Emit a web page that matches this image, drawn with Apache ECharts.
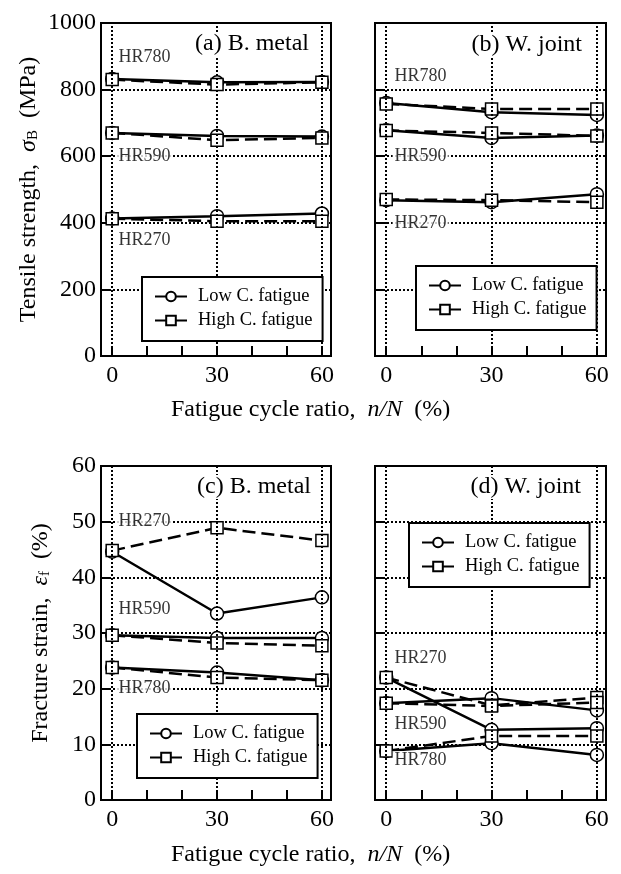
<!DOCTYPE html>
<html>
<head>
<meta charset="utf-8">
<script src="https://cdn.jsdelivr.net/npm/echarts@6/dist/echarts.min.js"></script>
<style>
  html, body { margin: 0; padding: 0; background: #fff; }
  #chart { width: 621px; height: 874px; }
</style>
</head>
<body>
<div id="chart"></div>
<script>
// fatigue cycle ratio n/N (%)
const xCycle = [0, 30, 60];
const xTicks = [0, 10, 20, 30, 40, 50, 60];
const steels = ["HR270", "HR590", "HR780"];

// tensile strength (MPa), rows in steels order
const tsMetalLow = [[413, 420, 428], [670, 661, 659], [832, 822, 823]];
const tsMetalHigh = [[412, 405, 405], [670, 648, 655], [830, 815, 822]];
const tsJointLow = [[468, 462, 486], [678, 655, 662], [760, 732, 724]];
const tsJointHigh = [[470, 468, 462], [677, 670, 661], [757, 742, 742]];

// fracture strain (%)
const fsMetalLow = [[44.6, 33.5, 36.4], [29.6, 29.1, 29.1], [23.8, 22.9, 21.5]];
const fsMetalHigh = [[44.8, 48.9, 46.6], [29.6, 28.2, 27.7], [23.8, 22.0, 21.5]];
const fsJointLow = [[22.0, 12.6, 12.9], [17.4, 18.3, 16.1], [8.8, 10.2, 8.1]];
const fsJointHigh = [[22.0, 17.0, 18.4], [17.4, 16.9, 17.5], [8.8, 11.5, 11.5]];

// where the grade names sit (data coords), steels order
const tsMetalTags = [[1.2, 348], [1.2, 600], [1.2, 898]];
const tsJointTags = [[1.8, 400], [1.8, 600], [1.8, 839]];
const fsMetalTags = [[1.2, 50], [1.2, 34.3], [1.2, 20]];
const fsJointTags = [[1.8, 25.5], [1.8, 13.6], [1.8, 7.2]];

const LOW = "Low C. fatigue";
const HIGH = "High C. fatigue";
const FONT = "'Liberation Serif', 'DejaVu Serif', serif";

const panels = [
  { grid: { left: 101, top: 23, width: 230, height: 333 }, max: 1000, step: 200, low: tsMetalLow, high: tsMetalHigh, tags: tsMetalTags,
    title: "(a) B. metal", titlePos: { right: 309, top: 32 }, legendPos: { left: 142, top: 277 }, yLabels: true,
    yName: "Tensile strength,  {g|σ}{s|B}  (MPa)", nameGap: 60 },
  { grid: { left: 375, top: 23, width: 231, height: 333 }, max: 1000, step: 200, low: tsJointLow, high: tsJointHigh, tags: tsJointTags,
    title: "(b) W. joint", titlePos: { right: 36, top: 33 }, legendPos: { left: 416, top: 266 }, yLabels: false },
  { grid: { left: 101, top: 466, width: 230, height: 334 }, max: 60, step: 10, low: fsMetalLow, high: fsMetalHigh, tags: fsMetalTags,
    title: "(c) B. metal", titlePos: { right: 307, top: 475 }, legendPos: { left: 137, top: 714 }, yLabels: true,
    yName: "Fracture strain,  {g|ε}{s|f}  (%)", nameGap: 48 },
  { grid: { left: 375, top: 466, width: 231, height: 334 }, max: 60, step: 10, low: fsJointLow, high: fsJointHigh, tags: fsJointTags,
    title: "(d) W. joint", titlePos: { right: 37, top: 475 }, legendPos: { left: 409, top: 523 }, yLabels: false },
];

const black = "#000";
const dotted = { color: black, width: 2, type: [2, 2] };

const grids = [], xAxes = [], yAxes = [], series = [], legends = [], titles = [];

panels.forEach((p, k) => {
  grids.push({ ...p.grid, show: true, borderColor: black, borderWidth: 2, backgroundColor: "transparent" });

  xAxes.push({
    gridIndex: k, type: "value", min: -3.2, max: 62.6,
    axisLine: { show: true, onZero: false, lineStyle: { color: black, width: 2 } },
    axisTick: { show: true, inside: true, length: 10, customValues: xTicks, lineStyle: { color: black, width: 2 } },
    axisLabel: { show: true, customValues: xCycle, margin: 8, fontFamily: FONT, fontSize: 24, color: black },
    splitLine: { show: false },
  });

  yAxes.push({
    gridIndex: k, type: "value", min: 0, max: p.max, interval: p.step,
    axisLine: { show: true, onZero: false, lineStyle: { color: black, width: 2 } },
    axisTick: { show: true, inside: true, length: 10, lineStyle: { color: black, width: 2 } },
    axisLabel: { show: p.yLabels, margin: 5, formatter: (v) => String(v), fontFamily: FONT, fontSize: 24, color: black },
    splitLine: { show: true, lineStyle: dotted },
    name: p.yName || "", nameLocation: "middle", nameGap: p.nameGap || 0,
    nameTextStyle: {
      fontFamily: FONT, fontSize: 24, color: black,
      rich: {
        g: { fontFamily: FONT, fontSize: 24, fontStyle: "italic", color: black },
        s: { fontFamily: FONT, fontSize: 15, color: black, verticalAlign: "bottom" },
      },
    },
  });

  // vertical dotted lines at the measured cycle ratios
  series.push({
    type: "line", xAxisIndex: k, yAxisIndex: k, data: [], z: 1, silent: true,
    markLine: {
      silent: true, symbol: ["none", "none"], label: { show: false }, animation: false,
      lineStyle: dotted, data: xCycle.map((v) => ({ xAxis: v })),
    },
  });

  steels.forEach((s, i) => {
    series.push({
      name: LOW, type: "line", xAxisIndex: k, yAxisIndex: k, z: 3,
      data: xCycle.map((x, j) => [x, p.low[i][j]]),
      symbol: "circle", symbolSize: 13,
      itemStyle: { color: "#fff", borderColor: black, borderWidth: 1.5 },
      lineStyle: { color: black, width: 2.5, type: "solid" },
    });
    series.push({
      name: HIGH, type: "line", xAxisIndex: k, yAxisIndex: k, z: 4,
      data: xCycle.map((x, j) => [x, p.high[i][j]]),
      symbol: "rect", symbolSize: 12,
      itemStyle: { color: "#fff", borderColor: black, borderWidth: 1.5 },
      lineStyle: { color: black, width: 2.5, type: [13, 6] },
    });
  });

  // grade names
  series.push({
    type: "scatter", xAxisIndex: k, yAxisIndex: k, z: 5, silent: true, symbolSize: 0,
    data: p.tags.map((t, i) => ({ value: t, name: steels[i] })),
    label: {
      show: true, position: "right", distance: 0, formatter: "{b}",
      fontFamily: FONT, fontSize: 18, color: black, backgroundColor: "#fff", padding: [0, 2],
    },
  });

  legends.push({
    ...p.legendPos, orient: "vertical", z: 10, selectedMode: false,
    data: [LOW, HIGH], itemWidth: 32, itemHeight: 12, itemGap: 5,
    padding: [10, 10, 11, 12], backgroundColor: "#fff", borderColor: black, borderWidth: 2, borderRadius: 0,
    textStyle: { fontFamily: FONT, fontSize: 18.5, color: black, padding: [0, 0, 0, 6] },
  });

  titles.push({
    text: p.title, ...p.titlePos, padding: [0, 3], backgroundColor: "#fff", z: 8,
    textStyle: { fontFamily: FONT, fontSize: 24, fontWeight: "normal", color: black },
  });
});

const xNameStyle = {
  fontFamily: FONT, fontSize: 24, fontWeight: "normal", color: black,
  rich: { i: { fontFamily: FONT, fontSize: 24, fontStyle: "italic", color: black } },
};
titles.push({ text: "Fatigue cycle ratio,  {i|n/N}  (%)", left: "center", top: 398, padding: 0, textStyle: xNameStyle });
titles.push({ text: "Fatigue cycle ratio,  {i|n/N}  (%)", left: "center", top: 843, padding: 0, textStyle: xNameStyle });

const chart = echarts.init(document.getElementById("chart"));
chart.setOption({
  animation: false,
  backgroundColor: "#fff",
  title: titles,
  legend: legends,
  grid: grids,
  xAxis: xAxes,
  yAxis: yAxes,
  series: series,
});
</script>
</body>
</html>
